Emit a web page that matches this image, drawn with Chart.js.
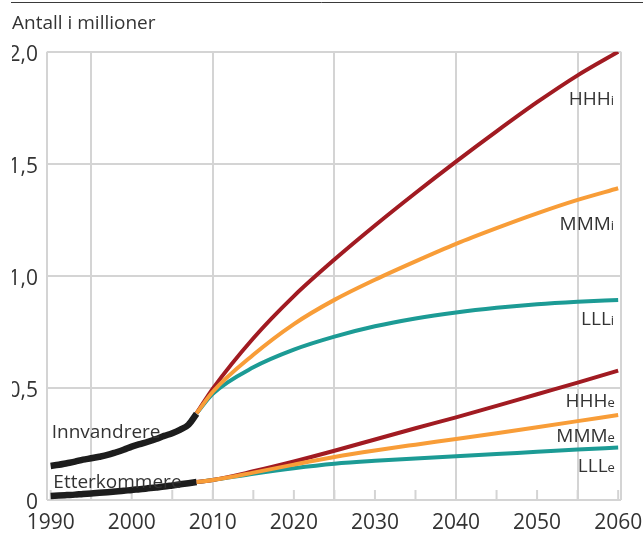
<!DOCTYPE html>
<html>
<head>
<meta charset="utf-8">
<script src="https://cdn.jsdelivr.net/npm/chart.js@4/dist/chart.umd.min.js"></script>
<style>
  html, body { margin: 0; padding: 0; background: #fff; }
  #clip { position: absolute; left: 11px; top: 0; width: 632px; height: 534px; overflow: hidden; }
  #box { position: absolute; left: -11px; top: 0; width: 643px; height: 534px; }
</style>
</head>
<body>
<div id="clip"><div id="box"><canvas id="chart"></canvas></div></div>
<script>
  // historic figures, millions
  const histYears = [1990, 1991, 1992, 1993, 1994, 1995, 1996, 1997, 1998, 1999,
                     2000, 2001, 2002, 2003, 2004, 2005, 2006, 2007, 2008];
  const innvandrere = [0.152, 0.157, 0.164, 0.171, 0.180, 0.186, 0.193, 0.201, 0.212, 0.224,
                       0.238, 0.249, 0.260, 0.272, 0.286, 0.298, 0.314, 0.336, 0.385];
  const etterkommere = [0.018, 0.020, 0.022, 0.024, 0.027, 0.029, 0.032, 0.035, 0.038, 0.041,
                        0.045, 0.048, 0.052, 0.056, 0.060, 0.065, 0.070, 0.075, 0.080];

  // projections
  const projYears = [2008, 2010, 2015, 2020, 2025, 2030, 2035, 2040, 2045, 2050, 2055, 2060];
  const hhhI = [0.387, 0.497, 0.722, 0.910, 1.073, 1.225, 1.370, 1.510, 1.645, 1.775, 1.895, 2.000];
  const mmmI = [0.387, 0.483, 0.648, 0.785, 0.893, 0.983, 1.065, 1.143, 1.213, 1.279, 1.339, 1.391];
  const lllI = [0.387, 0.474, 0.592, 0.671, 0.729, 0.775, 0.810, 0.837, 0.858, 0.874, 0.885, 0.893];
  const hhhE = [0.080, 0.089, 0.128, 0.172, 0.220, 0.270, 0.320, 0.369, 0.420, 0.472, 0.524, 0.577];
  const mmmE = [0.080, 0.089, 0.122, 0.158, 0.192, 0.221, 0.247, 0.272, 0.298, 0.325, 0.352, 0.379];
  const lllE = [0.080, 0.089, 0.117, 0.142, 0.162, 0.175, 0.185, 0.195, 0.205, 0.215, 0.225, 0.234];

  const tickYears = [1990, 1995, 2000, 2005, 2010, 2015, 2020, 2025, 2030, 2035, 2040, 2045, 2050, 2055, 2060];
  const gridYears = [1995, 2010, 2025, 2040, 2055];
  const labelYears = [1990, 2000, 2010, 2020, 2030, 2040, 2050, 2060];
  const yTickValues = [0, 0.5, 1, 1.5, 2];
  const yTickLabels = ['0', '0,5', '1,0', '1,5', '2,0'];

  const X_MIN = 1989.55, X_MAX = 2060.35;
  const GRID = '#d4d4d4';
  const TEXT = '#333333';
  const FONT = '"Open Sans", sans-serif';
  const RED = '#a11b22', ORANGE = '#f89d38', TEAL = '#1c9b95', BLACK = '#1d1d1d';

  // curve labels, placed in data units
  const curveLabels = [
    { text: 'HHH', sub: 'i', x: 2059.5, y: 1.763, align: 'right' },
    { text: 'MMM', sub: 'i', x: 2059.5, y: 1.205, align: 'right' },
    { text: 'LLL', sub: 'i', x: 2059.5, y: 0.781, align: 'right' },
    { text: 'HHH', sub: 'e', x: 2059.6, y: 0.417, align: 'right' },
    { text: 'MMM', sub: 'e', x: 2059.6, y: 0.260, align: 'right' },
    { text: 'LLL', sub: 'e', x: 2059.6, y: 0.126, align: 'right' },
    { text: 'Innvandrere', sub: '', x: 1990.13, y: 0.275, align: 'left' },
    { text: 'Etterkommere', sub: '', x: 1990.33, y: 0.052, align: 'left' }
  ];

  function pts(xs, ys){ return xs.map((x, i) => ({ x: x, y: ys[i] })); }

  function line(label, xs, ys, color, width, order){
    return {
      label: label, data: pts(xs, ys), borderColor: color, backgroundColor: color,
      borderWidth: width, pointRadius: 0, fill: false, order: order,
      cubicInterpolationMode: 'monotone', borderCapStyle: 'butt', borderJoinStyle: 'round'
    };
  }

  const innerTicks = {
    id: 'innerTicks',
    beforeDatasetsDraw(chart){
      const c = chart.ctx, xs = chart.scales.x, b = chart.chartArea.bottom;
      c.save();
      c.strokeStyle = GRID; c.lineWidth = 2;
      tickYears.forEach(v => {
        const px = xs.getPixelForValue(v);
        c.beginPath(); c.moveTo(px, b); c.lineTo(px, b - 10); c.stroke();
      });
      c.restore();
    }
  };

  const curveText = {
    id: 'curveText',
    afterDatasetsDraw(chart){
      const c = chart.ctx, xs = chart.scales.x, ys = chart.scales.y;
      c.save();
      c.fillStyle = TEXT;
      c.textBaseline = 'alphabetic';
      curveLabels.forEach(l => {
        const px = xs.getPixelForValue(l.x), py = ys.getPixelForValue(l.y);
        c.font = '19px ' + FONT;
        const mainW = c.measureText(l.text).width;
        c.font = '13px ' + FONT;
        const subW = l.sub ? c.measureText(l.sub).width : 0;
        const start = l.align === 'right' ? px - mainW - subW : px;
        c.font = '19px ' + FONT;
        c.textAlign = 'left';
        c.fillText(l.text, start, py);
        if(l.sub){
          c.font = '13px ' + FONT;
          c.fillText(l.sub, start + mainW, py);
        }
      });
      c.restore();
    }
  };

  const topRule = {
    id: 'topRule',
    afterDraw(chart){
      const c = chart.ctx;
      c.save();
      c.strokeStyle = '#3a3a3a'; c.lineWidth = 1;
      c.beginPath(); c.moveTo(0, 2.5); c.lineTo(chart.width, 2.5); c.stroke();
      c.restore();
    }
  };

  Chart.defaults.font.family = FONT;
  Chart.defaults.color = TEXT;

  new Chart(document.getElementById('chart'), {
    type: 'line',
    data: {
      datasets: [
        line('Innvandrere', histYears, innvandrere, BLACK, 6.5, 5),
        line('Etterkommere', histYears, etterkommere, BLACK, 6.5, 5),
        line('LLLi', projYears, lllI, TEAL, 4, 3),
        line('HHHi', projYears, hhhI, RED, 4, 2),
        line('MMMi', projYears, mmmI, ORANGE, 4, 1),
        line('LLLe', projYears, lllE, TEAL, 4, 3),
        line('HHHe', projYears, hhhE, RED, 4, 2),
        line('MMMe', projYears, mmmE, ORANGE, 4, 1)
      ]
    },
    options: {
      responsive: true,
      maintainAspectRatio: false,
      animation: false,
      layout: { padding: { left: 12, right: 22, top: 0, bottom: 0 } },
      plugins: {
        legend: { display: false },
        tooltip: { enabled: false },
        title: {
          display: true, text: 'Antall i millioner', align: 'start', color: TEXT,
          font: { size: 19, weight: 'normal' }, padding: { top: 12, bottom: 17 }
        }
      },
      scales: {
        x: {
          type: 'linear', min: X_MIN, max: X_MAX,
          afterBuildTicks: s => { s.ticks = [X_MIN].concat(tickYears, [X_MAX]).map(v => ({ value: v })); },
          afterFit: s => { s.height = 34; },
          border: { display: false },
          grid: {
            drawTicks: false, lineWidth: 2,
            color: ctx => {
              const v = ctx.tick ? ctx.tick.value : null;
              return (v === X_MIN || v === X_MAX || gridYears.includes(v)) ? GRID : 'rgba(0,0,0,0)';
            }
          },
          ticks: {
            autoSkip: false, maxRotation: 0, padding: 10, color: TEXT,
            font: { size: 21 },
            callback: v => labelYears.includes(v) ? String(v) : ''
          }
        },
        y: {
          min: 0, max: 2,
          afterBuildTicks: s => { s.ticks = yTickValues.map(v => ({ value: v })); },
          afterFit: s => { s.width = 35; },
          border: { display: false },
          grid: { drawTicks: false, lineWidth: 2, color: GRID },
          ticks: {
            padding: 9, labelOffset: 3, color: TEXT, font: { size: 21 },
            callback: (v, i) => yTickLabels[yTickValues.indexOf(v)]
          }
        }
      }
    },
    plugins: [innerTicks, curveText, topRule]
  });
</script>
</body>
</html>
